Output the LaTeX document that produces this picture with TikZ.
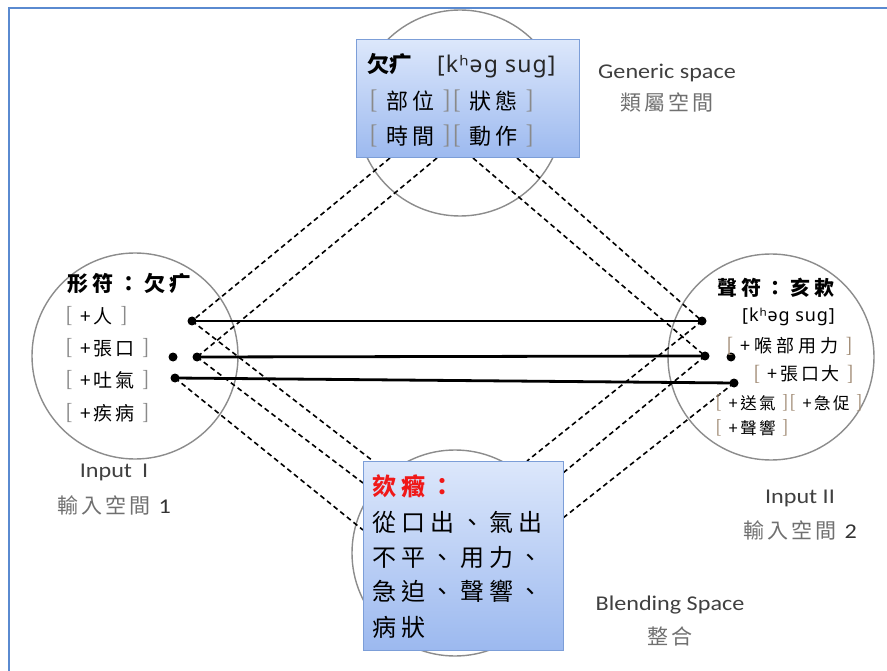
\documentclass[tikz,border=0pt]{standalone}
\usepackage{graphicx}
\usepackage{fontspec}
\setmainfont{Carlito}[FakeStretch=1.15]
\newfontfamily\cjk{Noto Sans CJK TC}
\newfontfamily\cjkA{Noto Sans CJK TC}[LetterSpace=15]
\newfontfamily\cjkB{Noto Sans CJK TC}[LetterSpace=22]
\newfontfamily\ipa{Noto Sans}[LetterSpace=5]
\newfontfamily\bkfont{Liberation Serif}
\definecolor{framec}{HTML}{5A8AD0}
\definecolor{circc}{HTML}{8C8C8C}
\definecolor{boxtop}{HTML}{DCE7FB}
\definecolor{boxbot}{HTML}{9CB9EF}
\definecolor{boxline}{HTML}{7C9ED8}
\definecolor{brk}{HTML}{8A8A8A}
\definecolor{brkb}{HTML}{A38E78}
\definecolor{lblen}{HTML}{404040}
\definecolor{lblzh}{HTML}{707070}
\definecolor{redt}{HTML}{F01818}
\newcommand{\bkL}[1]{{\color{#1}\bkfont\raisebox{0.03em}{\scalebox{1}[1.22]{[}}}}
\newcommand{\bkR}[1]{{\color{#1}\bkfont\raisebox{0.03em}{\scalebox{1}[1.22]{]}}}}
\newcommand{\bkt}[2]{\bkL{#1}\hspace{0.42em}#2\hspace{0.4em}\bkR{#1}\hspace{0.14em}}
\begin{document}
\begin{tikzpicture}[x=1pt,y=-1pt,
  space/.style={draw=circc, line width=1.4pt, circle, minimum size=206pt, inner sep=0pt},
  dot/.style={circle, fill=black, inner sep=0pt, minimum size=9pt},
  solidln/.style={line width=2.8pt, black},
  dashln/.style={line width=1.6pt, black, dash pattern=on 5pt off 3.5pt},
  bluebox/.style={draw=boxline, line width=1pt, top color=boxtop, bottom color=boxbot, inner sep=0pt},
  txt/.style={inner sep=0pt, anchor=west},
  lbl/.style={inner sep=0pt, anchor=center}]
\useasboundingbox (0,0) rectangle (887,671);
\fill[white] (0,0) rectangle (887,671);
\draw[framec, line width=2.2pt] (9,671) -- (9,8) -- (887,8);
% circles
\node[space] (gen) at (460,113) {};
\node[space] (in1) at (135,356) {};
\node[space] (in2) at (771,357) {};
\node[space] (bln) at (455,553) {};
% dots
\node[dot] (l1) at (192,321) {};
\node[dot] (l2) at (197,357) {};
\node[dot] (l0) at (173,357) {};
\node[dot] (l3) at (175,378) {};
\node[dot] (r1) at (702,321) {};
\node[dot] (r2) at (705,356) {};
\node[dot] (r0) at (731,357) {};
\node[dot] (r3) at (734,383) {};
% dashed-line ends on the boxes
\coordinate (t1) at (390,158);
\coordinate (t2) at (437,158);
\coordinate (t3) at (473,158);
\coordinate (t4) at (517,158);
\coordinate (b1) at (373,461);
\coordinate (b2) at (363,483);
\coordinate (b3) at (363,530);
\coordinate (b4) at (527,461);
\coordinate (b5) at (563,473);
\coordinate (b6) at (563,518);
\draw[dashln] (t1) -- (l1.center);
\draw[dashln] (t2) -- (l2.center);
\draw[dashln] (t3) -- (r2.center);
\draw[dashln] (t4) -- (r1.center);
\draw[dashln] (l1.center) -- (b1);
\draw[dashln] (l2.center) -- (b2);
\draw[dashln] (l3.center) -- (b3);
\draw[dashln] (r1.center) -- (b4);
\draw[dashln] (r2.center) -- (b5);
\draw[dashln] (r3.center) -- (b6);
\draw[solidln] (l1.center) -- (r1.center);
\draw[solidln] (l2.center) -- (r2.center);
\draw[solidln] (l3.center) -- (r3.center);
% boxes
\node[bluebox, minimum width=223pt, minimum height=118pt] (gbox) at (467.5,99) {};
\node[bluebox, minimum width=200pt, minimum height=189pt] (bbox) at (463,555.5) {};
% generic box text
\node[txt, font=\fontsize{22}{24}\selectfont] (g1) at (367,66) {{\cjk\bfseries 欠疒}\hspace{26pt}{\ipa\fontsize{23}{25}\selectfont\color{black!85}[kʰəg sug]}};
\node[txt, font=\cjkA\fontsize{22}{24}\selectfont] (g2) at (370,101) {\bkt{brk}{部位}\bkt{brk}{狀態}};
\node[txt, font=\cjkA\fontsize{22}{24}\selectfont] (g3) at (370,136) {\bkt{brk}{時間}\bkt{brk}{動作}};
% input 1 text
\node[txt, font=\cjkB\bfseries\fontsize{21}{23}\selectfont] (a0) at (67,283) {形符：欠疒};
\node[txt, font=\cjkA\fontsize{19}{21}\selectfont] (a1) at (66,316) {\bkt{brk}{+人}};
\node[txt, font=\cjkA\fontsize{19}{21}\selectfont] (a2) at (66,348) {\bkt{brk}{+張口}};
\node[txt, font=\cjkA\fontsize{19}{21}\selectfont] (a3) at (66,380) {\bkt{brk}{+吐氣}};
\node[txt, font=\cjkA\fontsize{19}{21}\selectfont] (a4) at (66,413) {\bkt{brk}{+疾病}};
% input 2 text
\node[txt, font=\cjkB\bfseries\fontsize{20}{22}\selectfont] (c0) at (717,288) {聲符：亥欶};
\node[txt, font=\ipa\fontsize{18}{20}\selectfont] (c1) at (742,317) {[kʰəg sug]};
\node[txt, font=\cjkB\fontsize{18}{20}\selectfont] (c2) at (727,346) {\bkt{brkb}{+喉部用力}};
\node[txt, font=\cjkA\fontsize{18}{20}\selectfont] (c3) at (754,374) {\bkt{brkb}{+張口大}};
\node[txt, font=\cjkA\fontsize{16.5}{18}\selectfont] (c4) at (716,403) {\bkt{brkb}{+送氣}\bkt{brkb}{+急促}};
\node[txt, font=\cjkA\fontsize{16.5}{18}\selectfont] (c5) at (716,428) {\bkt{brkb}{+聲響}};
% blending box text
\node[txt, font=\cjkB\bfseries\fontsize{24}{26}\selectfont, text=redt] (d0) at (372,486) {欬癥：};
\node[txt, font=\cjkB\fontsize{24}{26}\selectfont] (d1) at (372,522) {從口出、氣出};
\node[txt, font=\cjkB\fontsize{24}{26}\selectfont] (d2) at (372,557) {不平、用力、};
\node[txt, font=\cjkB\fontsize{24}{26}\selectfont] (d3) at (372,591) {急迫、聲響、};
\node[txt, font=\cjkB\fontsize{24}{26}\selectfont] (d4) at (372,627) {病狀};
% labels
\node[lbl, font=\fontsize{21}{23}\selectfont, text=lblen] (e1) at (667,73) {Generic space};
\node[lbl, font=\cjkA\fontsize{21}{23}\selectfont, text=lblzh] (f1) at (667,102) {類屬空間};
\node[lbl, font=\fontsize{21}{23}\selectfont, text=lblen] (e2) at (114,472) {Input\hspace{10pt}I};
\node[lbl, font=\cjkA\fontsize{21}{23}\selectfont, text=lblzh] (f2) at (114,505) {輸入空間 {\rmfamily\color{black!80}1}};
\node[lbl, font=\fontsize{21}{23}\selectfont, text=lblen] (e3) at (800,498) {Input II};
\node[lbl, font=\cjkA\fontsize{21}{23}\selectfont, text=lblzh] (f3) at (800,530) {輸入空間 {\rmfamily\color{black!80}2}};
\node[lbl, font=\fontsize{21}{23}\selectfont, text=lblen] (e4) at (670,605) {Blending Space};
\node[lbl, font=\cjkA\fontsize{21}{23}\selectfont, text=lblzh] (f4) at (670,636) {整合};
\end{tikzpicture}
\end{document}
